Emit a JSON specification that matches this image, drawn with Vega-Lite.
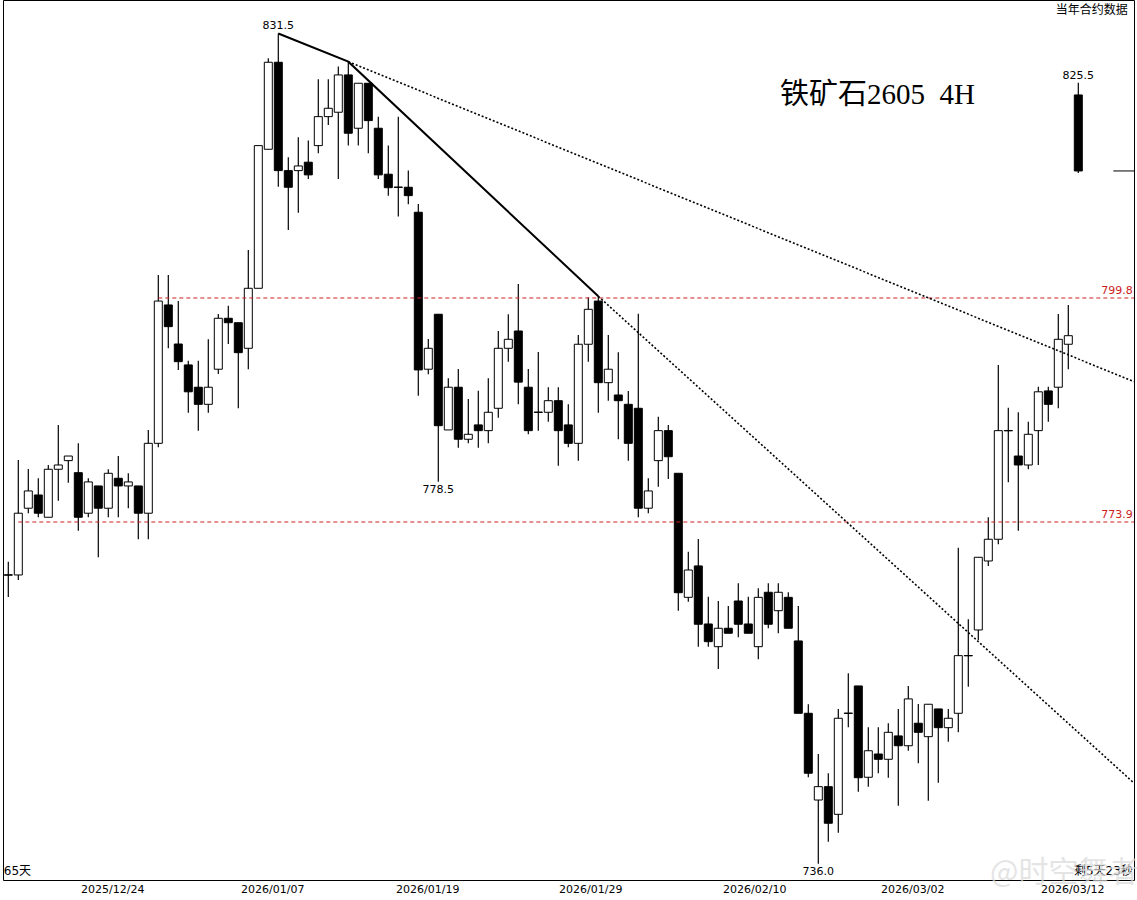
{
  "$schema": "https://vega.github.io/schema/vega-lite/v6.json",
  "width": 1131,
  "height": 880,
  "autosize": {"type": "none"},
  "padding": {"left": 3, "right": 3, "top": 0, "bottom": 20},
  "background": "white",
  "config": {
    "view": {"stroke": "black", "strokeWidth": 1},
    "text": {"font": "DejaVu Sans"}
  },
  "datasets": {
    "candles": [
      {"i":0,"o":767.90,"h":769.40,"l":765.42,"c":767.90},
      {"i":1,"o":767.90,"h":780.99,"l":767.34,"c":774.90},
      {"i":2,"o":775.47,"h":779.96,"l":774.90,"c":777.44},
      {"i":3,"o":776.98,"h":778.89,"l":774.44,"c":774.90},
      {"i":4,"o":774.44,"h":780.41,"l":774.44,"c":779.92},
      {"i":5,"o":779.92,"h":785.02,"l":776.33,"c":780.41},
      {"i":6,"o":780.91,"h":781.44,"l":778.39,"c":781.44},
      {"i":7,"o":779.53,"h":782.90,"l":772.92,"c":774.44},
      {"i":8,"o":774.90,"h":778.89,"l":774.44,"c":778.47},
      {"i":9,"o":778.01,"h":778.01,"l":769.90,"c":775.47},
      {"i":10,"o":775.47,"h":779.92,"l":774.44,"c":779.46},
      {"i":11,"o":778.89,"h":781.44,"l":774.44,"c":778.01},
      {"i":12,"o":778.01,"h":779.46,"l":775.47,"c":778.47},
      {"i":13,"o":778.01,"h":778.01,"l":771.94,"c":774.90},
      {"i":14,"o":774.90,"h":784.44,"l":771.94,"c":782.90},
      {"i":15,"o":782.90,"h":802.51,"l":782.44,"c":799.44},
      {"i":16,"o":798.98,"h":802.51,"l":793.91,"c":796.44},
      {"i":17,"o":794.41,"h":799.44,"l":791.39,"c":792.35},
      {"i":18,"o":791.97,"h":792.47,"l":786.43,"c":788.85},
      {"i":19,"o":789.38,"h":792.47,"l":784.36,"c":787.40},
      {"i":20,"o":787.40,"h":794.96,"l":786.43,"c":789.38},
      {"i":21,"o":791.47,"h":797.92,"l":790.92,"c":797.42},
      {"i":22,"o":797.42,"h":798.89,"l":794.41,"c":796.90},
      {"i":23,"o":796.90,"h":796.90,"l":786.94,"c":793.40},
      {"i":24,"o":793.91,"h":805.46,"l":791.47,"c":800.94},
      {"i":25,"o":800.94,"h":817.91,"l":800.94,"c":817.91},
      {"i":26,"o":817.47,"h":828.48,"l":817.47,"c":827.99},
      {"i":27,"o":827.99,"h":831.5,"l":812.99,"c":814.91},
      {"i":28,"o":814.91,"h":816.52,"l":807.84,"c":812.92},
      {"i":29,"o":814.91,"h":818.92,"l":809.89,"c":815.47},
      {"i":30,"o":815.92,"h":818.51,"l":813.92,"c":814.40},
      {"i":31,"o":817.91,"h":825.93,"l":816.99,"c":821.40},
      {"i":32,"o":821.40,"h":825.93,"l":820.40,"c":822.41},
      {"i":33,"o":821.93,"h":827.46,"l":813.92,"c":826.45},
      {"i":34,"o":826.45,"h":828.07,"l":817.91,"c":819.40},
      {"i":35,"o":820.00,"h":825.44,"l":817.91,"c":825.44},
      {"i":36,"o":825.44,"h":825.44,"l":816.99,"c":820.92},
      {"i":37,"o":820.00,"h":821.40,"l":813.92,"c":814.40},
      {"i":38,"o":814.48,"h":817.91,"l":811.92,"c":812.87},
      {"i":39,"o":812.92,"h":821.40,"l":809.42,"c":812.92},
      {"i":40,"o":812.92,"h":814.91,"l":810.89,"c":811.92},
      {"i":41,"o":809.94,"h":810.92,"l":788.40,"c":791.39},
      {"i":42,"o":791.47,"h":795.00,"l":790.89,"c":793.91},
      {"i":43,"o":797.89,"h":797.89,"l":778.5,"c":784.93},
      {"i":44,"o":784.44,"h":790.42,"l":784.44,"c":789.38},
      {"i":45,"o":789.38,"h":791.50,"l":782.40,"c":783.37},
      {"i":46,"o":783.37,"h":788.02,"l":782.90,"c":783.94},
      {"i":47,"o":785.02,"h":788.98,"l":782.40,"c":784.36},
      {"i":48,"o":784.36,"h":790.42,"l":782.90,"c":786.48},
      {"i":49,"o":786.94,"h":795.93,"l":785.86,"c":793.91},
      {"i":50,"o":793.91,"h":797.89,"l":792.35,"c":794.96},
      {"i":51,"o":795.93,"h":801.45,"l":787.40,"c":789.97},
      {"i":52,"o":789.38,"h":791.50,"l":783.94,"c":784.36},
      {"i":53,"o":786.48,"h":793.48,"l":784.36,"c":786.48},
      {"i":54,"o":786.48,"h":789.38,"l":785.40,"c":787.82},
      {"i":55,"o":787.82,"h":789.38,"l":780.33,"c":784.36},
      {"i":56,"o":785.02,"h":787.40,"l":782.44,"c":782.90},
      {"i":57,"o":782.90,"h":795.47,"l":780.91,"c":794.38},
      {"i":58,"o":794.38,"h":799.88,"l":792.35,"c":798.47},
      {"i":59,"o":799.44,"h":800.0,"l":786.43,"c":789.91},
      {"i":60,"o":789.91,"h":795.47,"l":787.82,"c":791.47},
      {"i":61,"o":788.48,"h":793.44,"l":783.37,"c":787.82},
      {"i":62,"o":787.40,"h":788.95,"l":780.91,"c":782.90},
      {"i":63,"o":786.94,"h":797.95,"l":774.44,"c":775.47},
      {"i":64,"o":775.47,"h":778.89,"l":774.90,"c":777.44},
      {"i":65,"o":780.91,"h":785.97,"l":777.93,"c":784.36},
      {"i":66,"o":784.36,"h":785.02,"l":778.81,"c":781.36},
      {"i":67,"o":779.46,"h":779.46,"l":763.88,"c":765.90},
      {"i":68,"o":765.38,"h":770.53,"l":764.89,"c":768.46},
      {"i":69,"o":768.92,"h":771.97,"l":759.85,"c":762.36},
      {"i":70,"o":762.39,"h":765.45,"l":759.85,"c":760.41},
      {"i":71,"o":759.85,"h":764.97,"l":757.37,"c":761.91},
      {"i":72,"o":761.91,"h":764.41,"l":761.35,"c":761.35},
      {"i":73,"o":764.97,"h":766.96,"l":760.90,"c":762.36},
      {"i":74,"o":762.39,"h":765.45,"l":761.35,"c":761.35},
      {"i":75,"o":759.85,"h":766.40,"l":758.45,"c":765.38},
      {"i":76,"o":765.95,"h":766.96,"l":761.91,"c":762.36},
      {"i":77,"o":763.88,"h":766.96,"l":761.35,"c":765.95},
      {"i":78,"o":765.38,"h":765.95,"l":761.91,"c":761.91},
      {"i":79,"o":760.49,"h":764.41,"l":752.45,"c":752.45},
      {"i":80,"o":752.45,"h":753.45,"l":745.41,"c":745.85},
      {"i":81,"o":742.92,"h":747.96,"l":736.0,"c":744.38},
      {"i":82,"o":744.38,"h":745.85,"l":738.38,"c":740.39},
      {"i":83,"o":741.36,"h":752.93,"l":739.36,"c":751.90},
      {"i":84,"o":752.45,"h":756.89,"l":750.91,"c":752.45},
      {"i":85,"o":755.48,"h":755.48,"l":743.83,"c":745.36},
      {"i":86,"o":745.41,"h":750.91,"l":744.38,"c":748.32},
      {"i":87,"o":747.96,"h":750.91,"l":745.85,"c":747.38},
      {"i":88,"o":747.38,"h":751.35,"l":745.36,"c":750.35},
      {"i":89,"o":749.95,"h":752.93,"l":742.30,"c":748.87},
      {"i":90,"o":748.87,"h":755.48,"l":748.32,"c":754.04},
      {"i":91,"o":751.35,"h":753.48,"l":746.94,"c":750.35},
      {"i":92,"o":749.87,"h":753.45,"l":742.84,"c":753.45},
      {"i":93,"o":752.93,"h":752.93,"l":744.82,"c":750.86},
      {"i":94,"o":750.86,"h":752.93,"l":749.32,"c":751.90},
      {"i":95,"o":752.45,"h":770.98,"l":750.35,"c":758.85},
      {"i":96,"o":758.85,"h":762.92,"l":755.40,"c":758.85},
      {"i":97,"o":761.72,"h":769.90,"l":760.60,"c":769.90},
      {"i":98,"o":769.48,"h":774.44,"l":768.92,"c":771.94},
      {"i":99,"o":771.94,"h":791.97,"l":771.37,"c":784.36},
      {"i":100,"o":784.36,"h":787.01,"l":778.43,"c":784.36},
      {"i":101,"o":781.44,"h":786.48,"l":772.92,"c":780.41},
      {"i":102,"o":780.41,"h":785.40,"l":779.92,"c":783.94},
      {"i":103,"o":784.36,"h":789.44,"l":780.41,"c":788.85},
      {"i":104,"o":788.95,"h":789.44,"l":785.40,"c":787.40},
      {"i":105,"o":789.38,"h":797.92,"l":786.94,"c":794.96},
      {"i":106,"o":794.38,"h":798.98,"l":791.47,"c":795.38},
      {"i":107,"o":824.02,"h":825.5,"l":814.63,"c":814.87}
    ],
    "levels": [
      {"i":15,"i2":112.57,"v":799.8},
      {"i":1,"i2":112.57,"v":773.9}
    ],
    "levelLabels": [
      {"i":112.45,"v":799.8,"t":"799.8"},
      {"i":112.45,"v":773.9,"t":"773.9"}
    ],
    "trendSolid": [
      {"i":27,"v":831.5},
      {"i":34,"v":828.06},
      {"i":59,"v":800.0}
    ],
    "trendDotted": [
      {"g":"a","i":34,"v":828.06},
      {"g":"a","i":112.57,"v":790.03},
      {"g":"b","i":59,"v":800.0},
      {"g":"b","i":112.57,"v":744.77}
    ],
    "lastTick": [
      {"i":110.5,"i2":112.57,"v":814.87}
    ],
    "hiLabels": [
      {"i":27,"v":831.5,"t":"831.5"},
      {"i":107,"v":825.5,"t":"825.5"}
    ],
    "loLabels": [
      {"i":43,"v":778.5,"t":"778.5"},
      {"i":81,"v":736.0,"t":"736.0"}
    ],
    "title": [
      {"i":77.17,"v":824.02,"t":"铁矿石2605\u00a0\u00a04H"}
    ],
    "notesRight": [
      {"i":111.95,"v":834.38,"t":"当年合约数据"},
      {"i":112.45,"v":735.21,"t":"剩5天23秒"}
    ],
    "notesLeft": [
      {"i":-0.45,"v":735.21,"t":"65天"}
    ],
    "watermark": [
      {"i":105.6,"v":735.0,"t":"@时空舞者"}
    ]
  },
  "encoding": {
    "x": {
      "field": "i",
      "type": "quantitative",
      "scale": {"domain": [-0.53, 112.57], "nice": false, "zero": false, "padding": 0},
      "axis": {
        "title": null,
        "values": [10.4, 26.4, 41.9, 58.2, 74.6, 90.4, 106.4],
        "labelExpr": "{'10.4':'2025/12/24','26.4':'2026/01/07','41.9':'2026/01/19','58.2':'2026/01/29','74.6':'2026/02/10','90.4':'2026/03/02','106.4':'2026/03/12'}['' + datum.value]",
        "domain": false,
        "ticks": false,
        "grid": false,
        "labelFont": "DejaVu Sans",
        "labelFontSize": 11,
        "labelColor": "black",
        "labelPadding": 3,
        "labelOverlap": false,
        "labelFlush": false
      }
    }
  },
  "layer": [
    {
      "data": {"name": "candles"},
      "mark": {"type": "rule", "color": "black", "strokeWidth": 1.2},
      "encoding": {
        "y": {"field": "l", "type": "quantitative", "scale": {"type": "log", "domain": [734.24, 835.6], "nice": false}, "axis": null},
        "y2": {"field": "h"}
      }
    },
    {
      "data": {"name": "candles"},
      "mark": {"type": "bar", "size": 8, "stroke": "black", "strokeWidth": 1},
      "encoding": {
        "y": {"field": "o", "type": "quantitative", "scale": {"type": "log", "domain": [734.24, 835.6], "nice": false}, "axis": null},
        "y2": {"field": "c"},
        "fill": {"condition": {"test": "datum.c > datum.o", "value": "white"}, "value": "black"}
      }
    },
    {
      "data": {"name": "candles"},
      "transform": [{"filter": "datum.o == datum.c"}],
      "mark": {"type": "tick", "orient": "horizontal", "size": 9, "thickness": 1, "color": "black"},
      "encoding": {
        "y": {"field": "o", "type": "quantitative", "scale": {"type": "log", "domain": [734.24, 835.6], "nice": false}, "axis": null}
      }
    },
    {
      "data": {"name": "levels"},
      "mark": {"type": "rule", "color": "#cc2020", "strokeWidth": 1, "strokeDash": [4, 3]},
      "encoding": {
        "x2": {"field": "i2"},
        "y": {"field": "v", "type": "quantitative", "scale": {"type": "log", "domain": [734.24, 835.6], "nice": false}, "axis": null}
      }
    },
    {
      "data": {"name": "levelLabels"},
      "mark": {"type": "text", "align": "right", "baseline": "bottom", "dy": -2, "fontSize": 11, "color": "#cc2020"},
      "encoding": {
        "y": {"field": "v", "type": "quantitative", "scale": {"type": "log", "domain": [734.24, 835.6], "nice": false}, "axis": null},
        "text": {"field": "t"}
      }
    },
    {
      "data": {"name": "trendSolid"},
      "mark": {"type": "line", "color": "black", "strokeWidth": 2},
      "encoding": {
        "y": {"field": "v", "type": "quantitative", "scale": {"type": "log", "domain": [734.24, 835.6], "nice": false}, "axis": null}
      }
    },
    {
      "data": {"name": "trendDotted"},
      "mark": {"type": "line", "color": "black", "strokeWidth": 1.6, "strokeDash": [2, 2]},
      "encoding": {
        "y": {"field": "v", "type": "quantitative", "scale": {"type": "log", "domain": [734.24, 835.6], "nice": false}, "axis": null},
        "detail": {"field": "g"}
      }
    },
    {
      "data": {"name": "lastTick"},
      "mark": {"type": "rule", "color": "black", "strokeWidth": 1},
      "encoding": {
        "x2": {"field": "i2"},
        "y": {"field": "v", "type": "quantitative", "scale": {"type": "log", "domain": [734.24, 835.6], "nice": false}, "axis": null}
      }
    },
    {
      "data": {"name": "hiLabels"},
      "mark": {"type": "text", "align": "center", "baseline": "bottom", "dy": -2, "fontSize": 11, "color": "black"},
      "encoding": {
        "y": {"field": "v", "type": "quantitative", "scale": {"type": "log", "domain": [734.24, 835.6], "nice": false}, "axis": null},
        "text": {"field": "t"}
      }
    },
    {
      "data": {"name": "loLabels"},
      "mark": {"type": "text", "align": "center", "baseline": "top", "dy": 2, "fontSize": 11, "color": "black"},
      "encoding": {
        "y": {"field": "v", "type": "quantitative", "scale": {"type": "log", "domain": [734.24, 835.6], "nice": false}, "axis": null},
        "text": {"field": "t"}
      }
    },
    {
      "data": {"name": "title"},
      "mark": {"type": "text", "align": "left", "baseline": "middle", "fontSize": 29, "font": "Liberation Serif, Noto Sans CJK SC", "color": "black"},
      "encoding": {
        "y": {"field": "v", "type": "quantitative", "scale": {"type": "log", "domain": [734.24, 835.6], "nice": false}, "axis": null},
        "text": {"field": "t"}
      }
    },
    {
      "data": {"name": "notesRight"},
      "mark": {"type": "text", "align": "right", "baseline": "middle", "fontSize": 12, "font": "DejaVu Sans, Noto Sans CJK SC", "color": "black"},
      "encoding": {
        "y": {"field": "v", "type": "quantitative", "scale": {"type": "log", "domain": [734.24, 835.6], "nice": false}, "axis": null},
        "text": {"field": "t"}
      }
    },
    {
      "data": {"name": "notesLeft"},
      "mark": {"type": "text", "align": "left", "baseline": "middle", "fontSize": 12, "font": "DejaVu Sans, Noto Sans CJK SC", "color": "black"},
      "encoding": {
        "y": {"field": "v", "type": "quantitative", "scale": {"type": "log", "domain": [734.24, 835.6], "nice": false}, "axis": null},
        "text": {"field": "t"}
      }
    },
    {
      "data": {"name": "watermark"},
      "mark": {"type": "text", "align": "center", "baseline": "middle", "fontSize": 30, "font": "Noto Sans CJK SC", "color": "#dadada", "opacity": 0.7},
      "encoding": {
        "y": {"field": "v", "type": "quantitative", "scale": {"type": "log", "domain": [734.24, 835.6], "nice": false}, "axis": null},
        "text": {"field": "t"}
      }
    }
  ]
}
